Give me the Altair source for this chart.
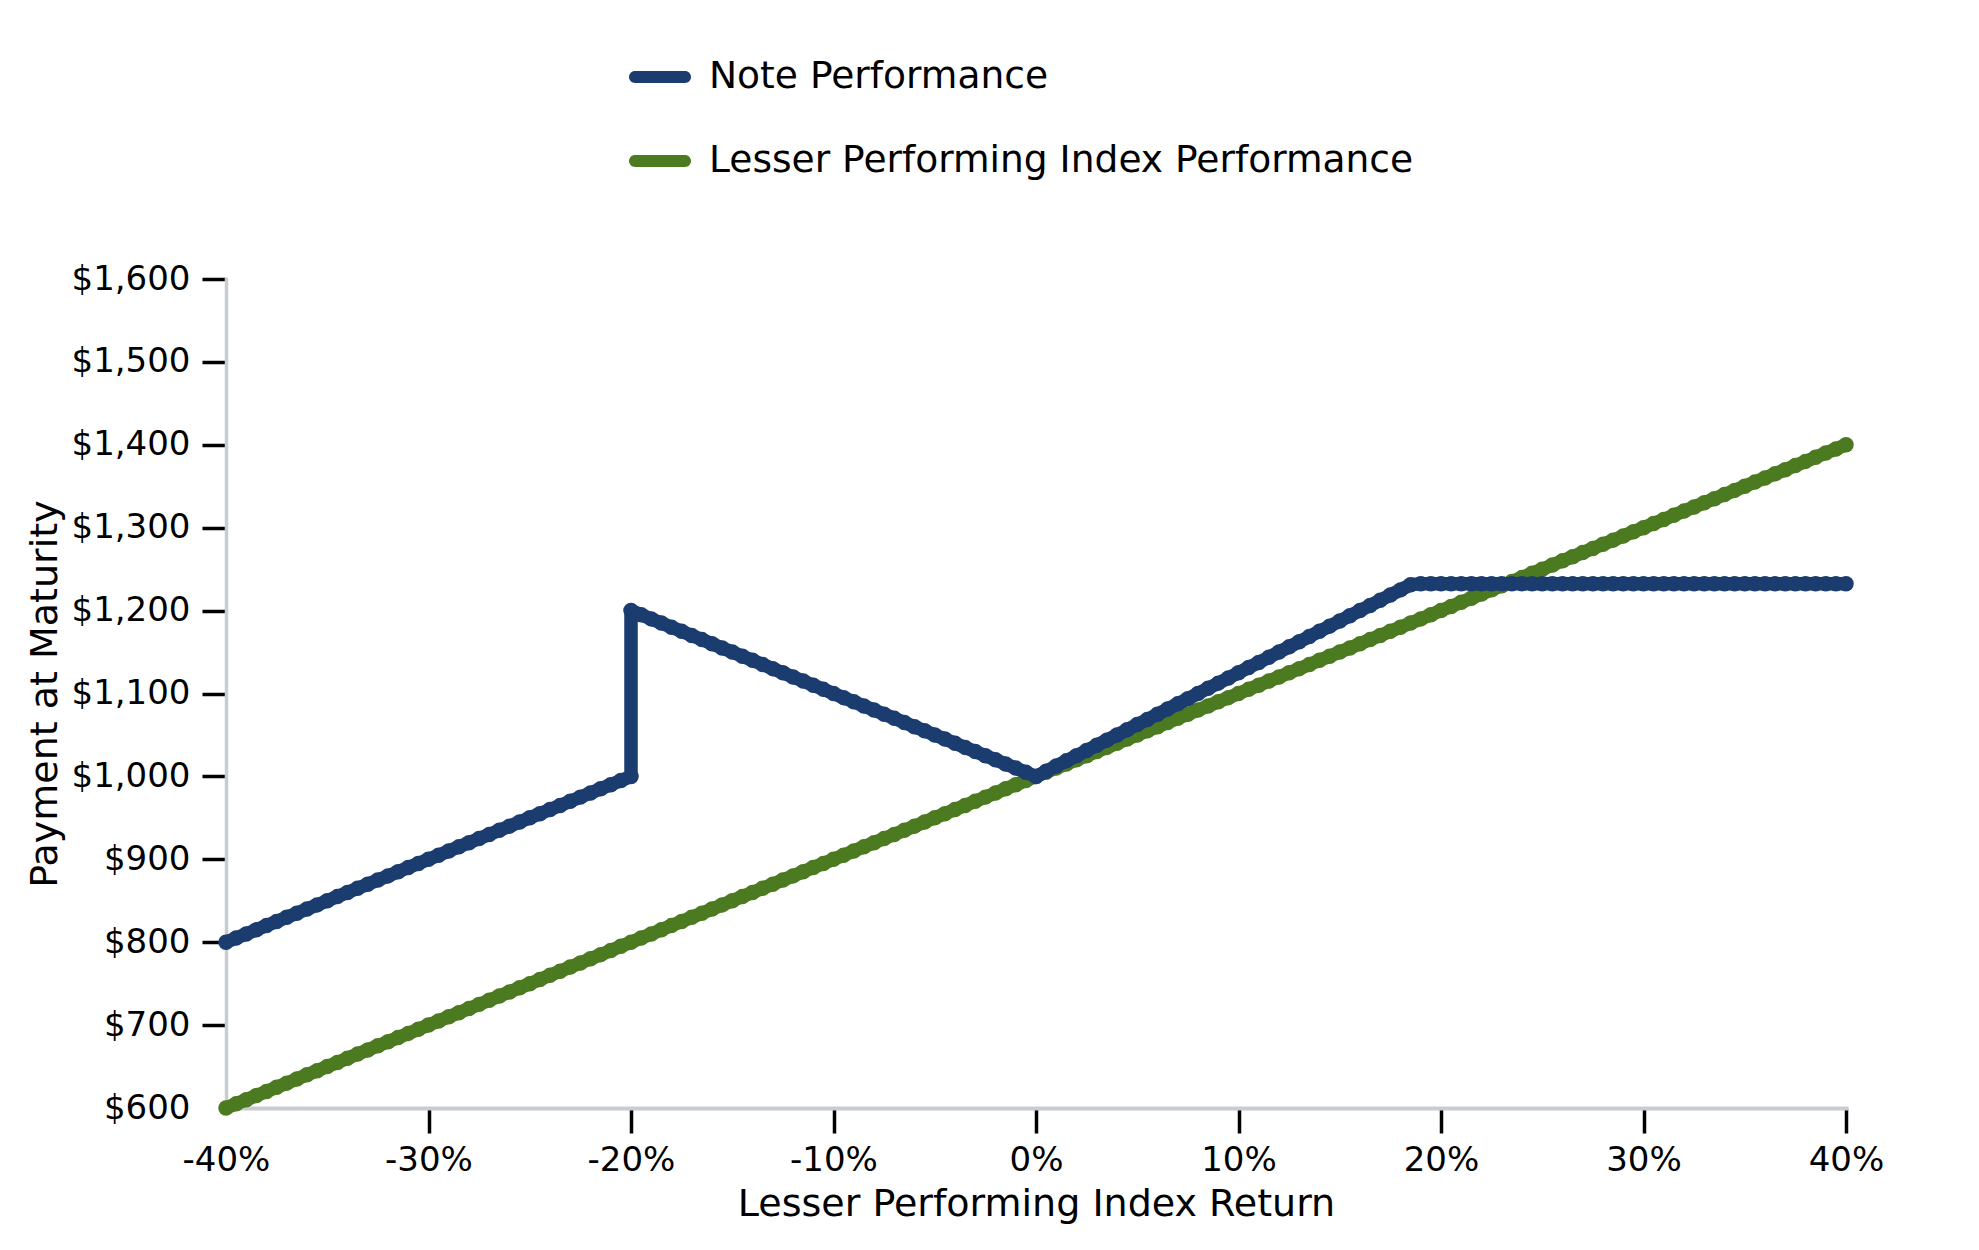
import altair as alt
import pandas as pd

# Lesser performing index return (%), 0.5% steps
x_pct = [
    -40, -39.5, -39, -38.5, -38, -37.5, -37, -36.5, -36, -35.5,
    -35, -34.5, -34, -33.5, -33, -32.5, -32, -31.5, -31, -30.5,
    -30, -29.5, -29, -28.5, -28, -27.5, -27, -26.5, -26, -25.5,
    -25, -24.5, -24, -23.5, -23, -22.5, -22, -21.5, -21, -20.5,
    -20, -19.5, -19, -18.5, -18, -17.5, -17, -16.5, -16, -15.5,
    -15, -14.5, -14, -13.5, -13, -12.5, -12, -11.5, -11, -10.5,
    -10, -9.5, -9, -8.5, -8, -7.5, -7, -6.5, -6, -5.5,
    -5, -4.5, -4, -3.5, -3, -2.5, -2, -1.5, -1, -0.5,
    0, 0.5, 1, 1.5, 2, 2.5, 3, 3.5, 4, 4.5,
    5, 5.5, 6, 6.5, 7, 7.5, 8, 8.5, 9, 9.5,
    10, 10.5, 11, 11.5, 12, 12.5, 13, 13.5, 14, 14.5,
    15, 15.5, 16, 16.5, 17, 17.5, 18, 18.5, 19, 19.5,
    20, 20.5, 21, 21.5, 22, 22.5, 23, 23.5, 24, 24.5,
    25, 25.5, 26, 26.5, 27, 27.5, 28, 28.5, 29, 29.5,
    30, 30.5, 31, 31.5, 32, 32.5, 33, 33.5, 34, 34.5,
    35, 35.5, 36, 36.5, 37, 37.5, 38, 38.5, 39, 39.5,
    40,
]

# Lesser Performing Index Performance ($)
index_perf = [
    600, 605, 610, 615, 620, 625, 630, 635, 640, 645,
    650, 655, 660, 665, 670, 675, 680, 685, 690, 695,
    700, 705, 710, 715, 720, 725, 730, 735, 740, 745,
    750, 755, 760, 765, 770, 775, 780, 785, 790, 795,
    800, 805, 810, 815, 820, 825, 830, 835, 840, 845,
    850, 855, 860, 865, 870, 875, 880, 885, 890, 895,
    900, 905, 910, 915, 920, 925, 930, 935, 940, 945,
    950, 955, 960, 965, 970, 975, 980, 985, 990, 995,
    1000, 1005, 1010, 1015, 1020, 1025, 1030, 1035, 1040, 1045,
    1050, 1055, 1060, 1065, 1070, 1075, 1080, 1085, 1090, 1095,
    1100, 1105, 1110, 1115, 1120, 1125, 1130, 1135, 1140, 1145,
    1150, 1155, 1160, 1165, 1170, 1175, 1180, 1185, 1190, 1195,
    1200, 1205, 1210, 1215, 1220, 1225, 1230, 1235, 1240, 1245,
    1250, 1255, 1260, 1265, 1270, 1275, 1280, 1285, 1290, 1295,
    1300, 1305, 1310, 1315, 1320, 1325, 1330, 1335, 1340, 1345,
    1350, 1355, 1360, 1365, 1370, 1375, 1380, 1385, 1390, 1395,
    1400,
]

# Note Performance ($) below the barrier: x from -40% to -20%
note_below = [
    800, 805, 810, 815, 820, 825, 830, 835, 840, 845,
    850, 855, 860, 865, 870, 875, 880, 885, 890, 895,
    900, 905, 910, 915, 920, 925, 930, 935, 940, 945,
    950, 955, 960, 965, 970, 975, 980, 985, 990, 995,
    1000,
]

# Note Performance ($) at/above the barrier: x from -20% to 40%
note_above = [
    1200, 1195, 1190, 1185, 1180, 1175, 1170, 1165, 1160, 1155,
    1150, 1145, 1140, 1135, 1130, 1125, 1120, 1115, 1110, 1105,
    1100, 1095, 1090, 1085, 1080, 1075, 1070, 1065, 1060, 1055,
    1050, 1045, 1040, 1035, 1030, 1025, 1020, 1015, 1010, 1005,
    1000, 1006.25, 1012.5, 1018.75, 1025, 1031.25, 1037.5, 1043.75, 1050, 1056.25,
    1062.5, 1068.75, 1075, 1081.25, 1087.5, 1093.75, 1100, 1106.25, 1112.5, 1118.75,
    1125, 1131.25, 1137.5, 1143.75, 1150, 1156.25, 1162.5, 1168.75, 1175, 1181.25,
    1187.5, 1193.75, 1200, 1206.25, 1212.5, 1218.75, 1225, 1231.25, 1232.5, 1232.5,
    1232.5, 1232.5, 1232.5, 1232.5, 1232.5, 1232.5, 1232.5, 1232.5, 1232.5, 1232.5,
    1232.5, 1232.5, 1232.5, 1232.5, 1232.5, 1232.5, 1232.5, 1232.5, 1232.5, 1232.5,
    1232.5, 1232.5, 1232.5, 1232.5, 1232.5, 1232.5, 1232.5, 1232.5, 1232.5, 1232.5,
    1232.5, 1232.5, 1232.5, 1232.5, 1232.5, 1232.5, 1232.5, 1232.5, 1232.5, 1232.5,
    1232.5,
]

series_names = ["Note Performance", "Lesser Performing Index Performance"]
series_colors = ["#1b3c6f", "#4b7a21"]
x_ticks = [-40, -30, -20, -10, 0, 10, 20, 30, 40]
y_ticks = [600, 700, 800, 900, 1000, 1100, 1200, 1300, 1400, 1500, 1600]

note_x = x_pct[:41] + x_pct[40:]
note_y = note_below + note_above
note_df = pd.DataFrame({
    "x": note_x, "y": note_y,
    "series": series_names[0], "idx": list(range(len(note_x))),
})
index_df = pd.DataFrame({
    "x": x_pct, "y": index_perf,
    "series": series_names[1], "idx": list(range(len(x_pct))),
})

FONT = "DejaVu Sans"

# rounded bar ("stadium") legend symbol
STADIUM = ("M-0.8065,-0.1935 L0.8065,-0.1935 A0.1935,0.1935 0 0 1 0.8065,0.1935 "
           "L-0.8065,0.1935 A0.1935,0.1935 0 0 1 -0.8065,-0.1935 Z")

color = alt.Color(
    "series:N",
    scale=alt.Scale(domain=series_names, range=series_colors),
    legend=alt.Legend(
        title=None, orient="none", legendX=403, legendY=-233,
        symbolType=STADIUM, symbolSize=3844, symbolStrokeWidth=0,
        symbolOpacity=1,
        labelFontSize=37.6, labelFont=FONT, labelColor="black", labelLimit=0,
        labelOffset=18, rowPadding=34, padding=0,
    ),
)

x_enc = alt.X(
    "x:Q",
    scale=alt.Scale(domain=[-40, 40], nice=False, zero=False),
    axis=alt.Axis(
        values=x_ticks, labelExpr="datum.value + '%'", labelFlush=False,
        title="Lesser Performing Index Return",
        tickSize=25, tickWidth=3.5, tickColor="black",
        tickOpacity={"condition": {"test": "datum.value == -40", "value": 0}, "value": 1},
        labelFontSize=34, labelFont=FONT, labelColor="black", labelPadding=10,
        domainColor="#c8ccd1", domainWidth=4, domainCap="square", grid=False,
        titleFontSize=38, titleFont=FONT, titleFontWeight="normal",
        titleColor="black", titlePadding=8,
    ),
)
y_enc = alt.Y(
    "y:Q",
    scale=alt.Scale(domain=[600, 1600], nice=False, zero=False),
    axis=alt.Axis(
        values=y_ticks, format="$,.0f",
        title="Payment at Maturity",
        tickSize=24, tickWidth=3.5, tickColor="black",
        tickOpacity={"condition": {"test": "datum.value == 600", "value": 0}, "value": 1},
        labelFontSize=34, labelFont=FONT, labelColor="black", labelPadding=12,
        domainColor="#c8ccd1", domainWidth=3.5, domainCap="square", grid=False,
        titleFontSize=38, titleFont=FONT, titleFontWeight="normal",
        titleColor="black", titlePadding=7,
    ),
)


def series_layer(df):
    base = alt.Chart(df).encode(x=x_enc, y=y_enc, color=color, order=alt.Order("idx:Q"))
    line = base.mark_line(strokeWidth=13.5, strokeCap="round", strokeJoin="round")
    pts = base.mark_circle(size=240, opacity=1)
    return line + pts


chart = alt.layer(
    series_layer(index_df),
    series_layer(note_df),
).properties(
    width=1620, height=829,
    padding={"left": 218, "top": 271, "right": 100, "bottom": 134},
    autosize=alt.AutoSizeParams(type="none"),
    background="white",
).configure_view(stroke=None)

chart.save("out.html", embed_options={"renderer": "svg", "actions": False})
